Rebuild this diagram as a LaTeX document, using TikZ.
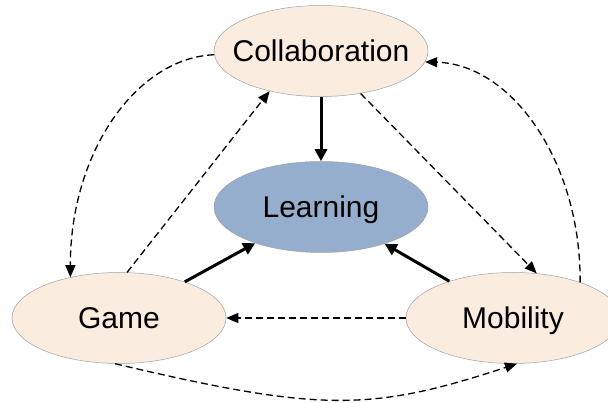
\documentclass[tikz,border=0pt]{standalone}
\usepackage{fontspec}
\setmainfont{Liberation Sans}
\usetikzlibrary{shapes.geometric,arrows.meta}
\definecolor{peach}{RGB}{251,236,224}
\definecolor{learnblue}{RGB}{149,174,205}
\definecolor{rimgray}{RGB}{160,160,160}
\begin{document}
\begin{tikzpicture}[x=1pt,y=-1pt,
  bubble/.style={ellipse,draw=rimgray,line width=0.5pt,fill=peach,
    minimum width=214pt,minimum height=91pt,inner xsep=-16pt,inner ysep=0pt,
    font=\fontsize{30}{36}\selectfont,text height=22pt,text depth=0pt},
  corebubble/.style={bubble,fill=learnblue},
  mainlink/.style={line width=3pt,-{Triangle[length=12pt,width=12pt]}},
  sidelink/.style={line width=1.3pt,dash pattern=on 7pt off 4pt,
    -{Triangle[length=12pt,width=10pt]}}]
\useasboundingbox (0,0) rectangle (608,403);
\node[bubble] (collab) at (321,51) {Collaboration};
\node[corebubble] (learn) at (321,207) {Learning};
\node[bubble] (game) at (119,318) {Game};
\node[bubble] (mob) at (513,318) {Mobility};
% solid arrows to Learning
\draw[mainlink] (collab) -- (learn);
\draw[mainlink] (game) -- (learn);
\draw[mainlink] (mob) -- (learn);
% dashed links
\draw[sidelink] (collab.182) .. controls (136,58) and (70,153) .. (game.140);
\draw[sidelink] (game.80) -- (collab.218);
\draw[sidelink] (collab.313) -- (mob.62);
\draw[sidelink] (mob.28) .. controls (581,161) and (511,64) .. (collab.354);
\draw[sidelink] (mob.west) -- (game.east);
\draw[sidelink] (game.265) .. controls (320,412) and (370,412) .. (mob.275);
\end{tikzpicture}
\end{document}
